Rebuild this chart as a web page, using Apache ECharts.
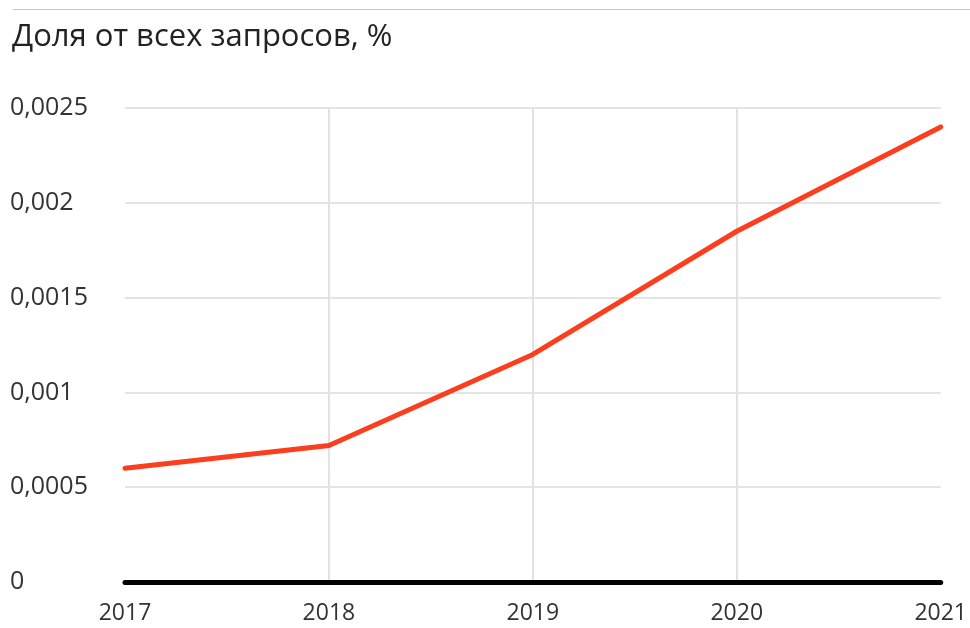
<!DOCTYPE html>
<html>
<head>
<meta charset="utf-8">
<script src="https://cdn.jsdelivr.net/npm/echarts@6/dist/echarts.min.js"></script>
<style>
  html, body { margin: 0; padding: 0; background: #fff; }
  #chart { width: 970px; height: 628px; }
</style>
</head>
<body>
<div id="chart"></div>
<script>
const years = ['2017', '2018', '2019', '2020', '2021'];
const shareValues = [0.0006, 0.00072, 0.0012, 0.00185, 0.0024];
const titleText = 'Доля от всех запросов, %';

const fontFamily = '"Open Sans", "Noto Sans", sans-serif';

function formatShare(v) {
  if (v === 0) {
    return '0';
  }
  return parseFloat(v.toFixed(4)).toString().replace('.', ',');
}

const chart = echarts.init(document.getElementById('chart'));
chart.setOption({
  backgroundColor: '#fff',
  animation: false,
  title: {
    text: titleText,
    left: 7,
    top: 17,
    textStyle: {
      fontFamily: fontFamily,
      fontSize: 31,
      fontWeight: 'normal',
      color: '#222'
    }
  },
  graphic: [
    {
      type: 'line',
      shape: { x1: 13, y1: 9.5, x2: 970, y2: 9.5 },
      style: { stroke: '#c8c8c8', lineWidth: 1 }
    }
  ],
  grid: {
    left: 125,
    right: 28,
    top: 108,
    bottom: 46
  },
  xAxis: {
    type: 'category',
    data: years,
    boundaryGap: false,
    axisLine: { lineStyle: { color: '#000', width: 5 } },
    axisTick: { show: false },
    axisLabel: {
      color: '#333',
      fontFamily: fontFamily,
      fontSize: 23,
      margin: 20
    },
    splitLine: {
      show: true,
      interval: (idx) => idx > 0 && idx < years.length - 1,
      lineStyle: { color: '#e2e2e2', width: 2 }
    }
  },
  yAxis: {
    type: 'value',
    min: 0,
    max: 0.0025,
    interval: 0.0005,
    axisLine: { show: false },
    axisTick: { show: false },
    axisLabel: {
      color: '#333',
      fontFamily: fontFamily,
      fontSize: 25,
      align: 'left',
      margin: 115,
      padding: [8, 0, 0, 0],
      formatter: formatShare
    },
    splitLine: { lineStyle: { color: '#e4e4e4', width: 2 } }
  },
  series: [
    {
      type: 'line',
      data: shareValues,
      showSymbol: false,
      smooth: false,
      lineStyle: { color: '#fb3e1e', width: 5, join: 'round', cap: 'round' }
    }
  ]
});
</script>
</body>
</html>
